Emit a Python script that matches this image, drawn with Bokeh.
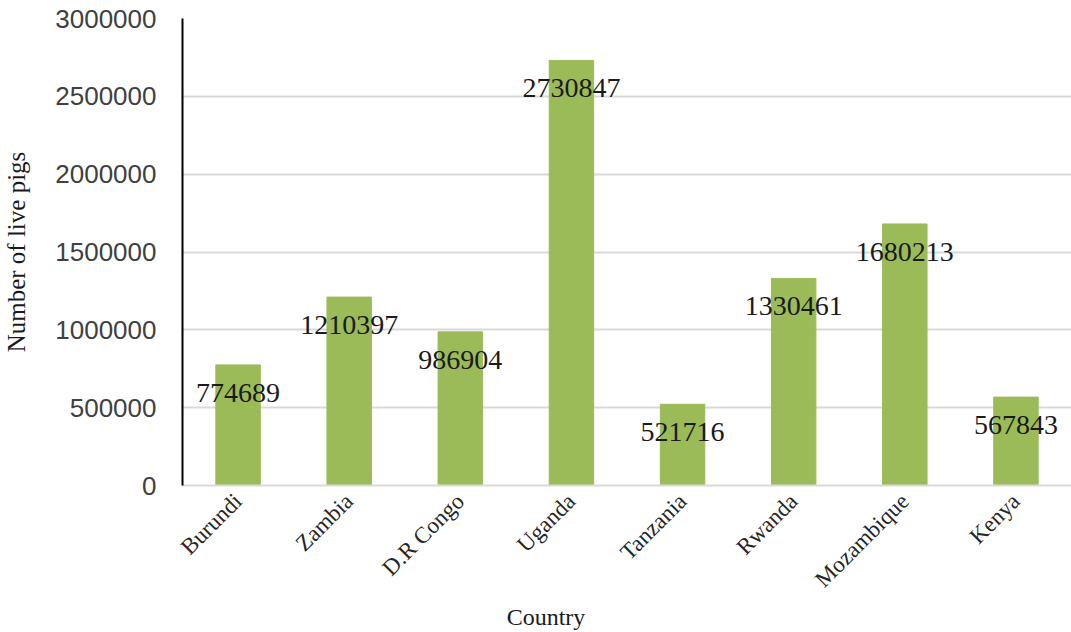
import math
from bokeh.plotting import figure
from bokeh.models import ColumnDataSource, NumeralTickFormatter, FixedTicker, Range1d
from bokeh.core.properties import value
from bokeh.embed import file_html
from bokeh.resources import INLINE

countries = ["Burundi", "Zambia", "D.R Congo", "Uganda", "Tanzania", "Rwanda", "Mozambique", "Kenya"]
pigs = [774689, 1210397, 986904, 2730847, 521716, 1330461, 1680213, 567843]
y_ticks = [0, 500000, 1000000, 1500000, 2000000, 2500000, 3000000]
x_title = "Country"
y_title = "Number of live pigs"

src = ColumnDataSource(dict(country=countries, pigs=pigs, label=[str(v) for v in pigs]))

p = figure(x_range=countries, y_range=Range1d(0, 3000000), width=1071, height=632,
           output_backend="svg", toolbar_location=None,
           min_border_left=181, min_border_top=18, min_border_right=0, min_border_bottom=138)
p.background_fill_color = "white"
p.border_fill_color = "white"
p.outline_line_color = None

p.vbar(x="country", top="pigs", width=0.4, source=src, color="#9bbb59")
p.text(x="country", y="pigs", text="label", source=src, text_align="center",
       text_baseline="middle", y_offset=28, text_font=value("Liberation Serif"),
       text_font_size="28px", text_color="#1a1a1a")

p.yaxis.ticker = FixedTicker(ticks=y_ticks)
p.yaxis.formatter = NumeralTickFormatter(format="0")
p.yaxis.major_tick_line_color = None
p.yaxis.minor_tick_line_color = None
p.yaxis.axis_line_color = "#000000"
p.yaxis.axis_line_width = 2
p.yaxis.major_label_standoff = 20
p.yaxis.major_label_text_font = "Liberation Sans"
p.yaxis.major_label_text_font_size = "26px"
p.yaxis.major_label_text_color = "#404040"
p.yaxis.axis_label = y_title
p.yaxis.axis_label_standoff = 22
p.yaxis.axis_label_text_font = "Liberation Serif"
p.yaxis.axis_label_text_font_style = "normal"
p.yaxis.axis_label_text_font_size = "25px"
p.yaxis.axis_label_text_color = "#1a1a1a"

p.xaxis.axis_line_color = "#d9d9d9"
p.xaxis.axis_line_width = 2
p.xaxis.major_tick_line_color = None
p.xaxis.minor_tick_line_color = None
p.xaxis.major_label_orientation = math.pi / 4
p.xaxis.major_label_standoff = 6
p.xaxis.major_label_text_font = "Liberation Serif"
p.xaxis.major_label_text_font_size = "23px"
p.xaxis.major_label_text_color = "#262626"
# trailing no-break spaces shift the centred title left, as in the reference
p.xaxis.axis_label = x_title + "\u00a0" * 27
p.xaxis.axis_label_standoff = 0
p.xaxis.axis_label_text_font = "Liberation Serif"
p.xaxis.axis_label_text_font_style = "normal"
p.xaxis.axis_label_text_font_size = "24px"
p.xaxis.axis_label_text_color = "#1a1a1a"

p.xgrid.grid_line_color = None
p.ygrid.grid_line_color = "#d9d9d9"
p.ygrid.grid_line_width = 2

open("out.html", "w").write(file_html(p, INLINE))
